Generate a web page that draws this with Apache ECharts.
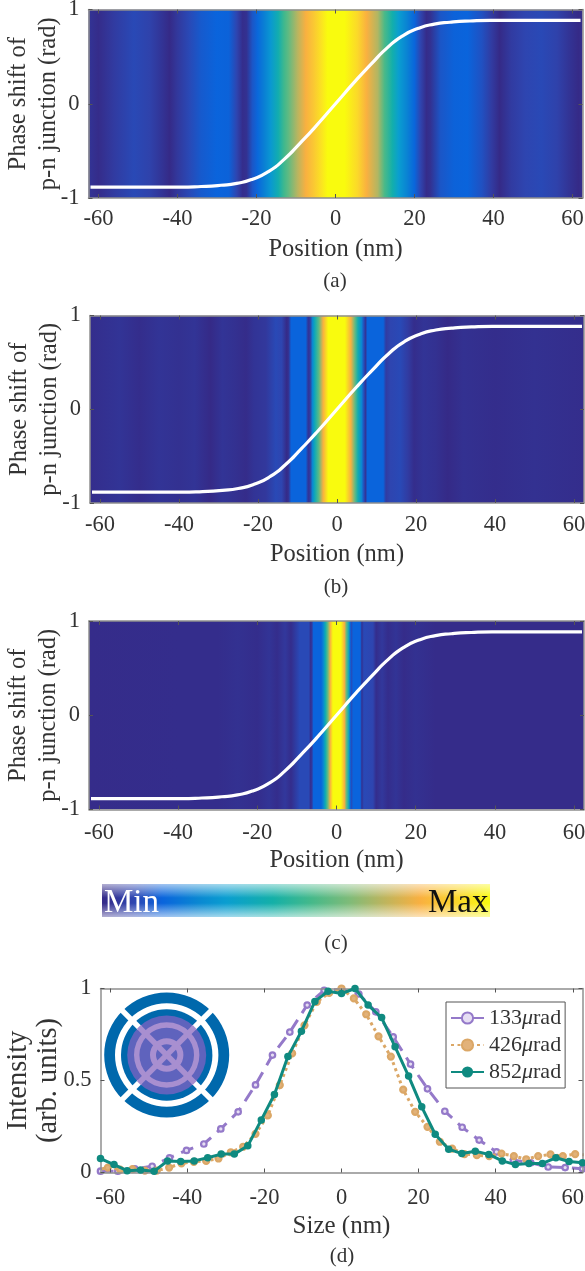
<!DOCTYPE html>
<html><head><meta charset="utf-8">
<style>html,body{margin:0;padding:0;background:#fff}#c{width:585px;height:1271px}</style>
<script src="https://cdn.jsdelivr.net/npm/echarts@6/dist/echarts.min.js"></script>
</head><body><div id="c"></div>
<script>
// ---------- tick labels ----------
const xTicks = [-60,-40,-20,0,20,40,60];
const captions = ['(a)','(b)','(c)','(d)'];
// ---------- colour scale (fraction of max -> colour) ----------
const scalePos = [0,.08,.155,.25,.32,.44,.54,.64,.72,.82,.92,1];
const scaleCol = ['#352a87','#2e45b0','#0a64dc','#0a88d2','#0a9ed0','#14b0a8','#45b98a','#80bb78','#b8b560','#f9b040','#fbd82a','#f9fb0e'];
// ---------- phase curve ----------
const phaseX = [-62,-50,-40,-34,-29,-25,-21,-17,-13,-9,-5,0,5,9,13,17,21,25,29,34,40,50,62];
const phaseY = [-.885,-.885,-.884,-.878,-.865,-.845,-.80,-.72,-.59,-.42,-.24,0,.24,.42,.59,.72,.80,.845,.865,.878,.884,.885,.885];
// ---------- intensity strips ----------
const posA = [-62.5,-60,-56,-51,-47,-44,-42,-40,-37,-34,-30,-27,-25,-23.5,-22.5,-21,-19.7,-18,-16.4,-14.5,-13,-12,-9.6,-7.5,-5.5,-3.7,-2,2.3,5.6,7.9,10.7,12.4,14.4,16,18,20,21.5,23,24,26.6,30,33.4,37,39.5,41.5,44.5,48,52,56,59,61.5,62.5];
const valA = [.03,.005,.05,.09,.07,.03,0,.04,.09,.13,.155,.15,.08,.01,.02,.12,.165,.23,.3,.42,.53,.58,.72,.82,.88,.94,1,1,.92,.82,.71,.55,.43,.32,.24,.16,.08,.005,.02,.12,.15,.155,.11,.05,0,.05,.08,.09,.07,.03,0,.01];
const posB = [-62.5,-55,-50,-45,-40,-36,-32,-29,-26,-23,-21,-18,-15.5,-14,-12.7,-12.2,-11.6,-7.9,-7.3,-6.8,-6.2,-5.6,-4.6,-3.5,-2.2,2,3.5,4.5,5.3,6.2,6.8,7.2,7.7,11.7,12.4,13.5,16,18,19.5,22,25,28,32,40,50,62.5];
const valB = [.01,.03,.01,.03,.02,.03,0,.03,.02,.005,.03,.04,.09,.08,0,.03,.155,.155,.03,.05,.25,.4,.58,.82,1,1,.82,.6,.42,.25,.1,.03,.155,.155,.05,.08,.09,.05,.01,.03,.02,0,.02,.01,.02,.01];
const posC = [-62.5,-40,-30,-25,-20,-17,-15,-13,-11.5,-9.3,-7,-6.5,-6.2,-5.8,-3.9,-3.3,-2.8,-2.2,-1.6,-.9,1.1,2,2.5,3.1,3.5,3.8,4.2,6,6.4,6.9,9.2,10,11.5,13,15,17,20,25,62.5];
const valC = [.005,.01,.01,.02,.01,.03,.01,.04,.01,.09,.09,.01,.05,.155,.155,.25,.42,.6,.82,1,1,.82,.6,.38,.15,.1,.155,.155,.02,.09,.08,.01,.04,.01,.03,.005,.02,.005,.005];
// ---------- measured profiles ----------
const x133 = [-62.5,-58,-53.6,-49.1,-44.6,-40.2,-35.7,-31.3,-26.8,-22.3,-17.9,-13.4,-8.9,-4.5,0,4.5,8.9,13.4,17.9,22.3,26.8,31.3,35.7,40.2,44.6,49.1,53.6,58,62.5];
const y133 = [.007,.007,.02,.034,.08,.12,.155,.237,.33,.476,.638,.763,.91,.99,.995,.97,.873,.737,.589,.455,.333,.246,.176,.112,.067,.053,.03,.027,.02];
const x426 = [-63.8,-60.6,-57.4,-54.2,-51,-47.9,-44.7,-41.5,-38.3,-35.1,-31.9,-28.7,-25.5,-22.3,-19.1,-16,-12.8,-9.6,-6.4,-3.2,0,3.2,6.4,9.6,12.8,16,19.1,22.3,25.5,28.7,31.9,35.1,38.3,41.5,44.7,47.9,51,54.2,57.4,60.6,63.8];
const y426 = [.01,.027,.016,.018,.01,.01,.027,.05,.058,.063,.076,.11,.14,.21,.31,.475,.647,.80,.927,.976,1,.946,.86,.74,.63,.45,.33,.248,.167,.13,.10,.094,.089,.103,.089,.072,.089,.098,.089,.10,.095];
const x852 = [-62.5,-59,-55.6,-52.1,-48.6,-45.1,-41.7,-38.2,-34.7,-31.2,-27.8,-24.3,-20.8,-17.4,-13.9,-10.4,-6.9,-3.5,0,3.5,6.9,10.4,13.9,17.4,20.8,24.3,27.8,31.2,34.7,38.2,41.7,45.1,48.6,52.1,55.6,59,62.5];
const y852 = [.076,.043,.01,.013,.007,.063,.06,.063,.08,.10,.10,.145,.286,.424,.63,.768,.93,.985,.973,1,.91,.842,.683,.524,.357,.208,.127,.103,.116,.098,.063,.043,.049,.049,.08,.06,.053];
const names = ['133μrad','426μrad','852μrad'];

const FONT = '"Liberation Serif","Times New Roman",serif';
const INK = '#333', BOX = '#8f8f8f';

function zip(a,b){ return a.map((v,i)=>[v,b[i]]); }
function colorAt(t){
  let i = 0;
  while (i < scalePos.length-2 && t > scalePos[i+1]) i++;
  const f = (t-scalePos[i])/(scalePos[i+1]-scalePos[i]);
  const a = parseInt(scaleCol[i].slice(1),16), b = parseInt(scaleCol[i+1].slice(1),16);
  const m = s => Math.round(((a>>s)&255)*(1-f)+((b>>s)&255)*f);
  return `rgb(${m(16)},${m(8)},${m(0)})`;
}
const LAYOUT = [
  {left:88.5, top:9.5,  width:494, height:188.5},
  {left:90,   top:315.5,width:494, height:187.5},
  {left:89,   top:621,  width:495, height:188.5},
  {left:100.5,top:988.5,width:482, height:184}
];
const LABEL_MARGIN=[10,11,12,14], NAME_GAP=[39,39,39,41];
const xMin=-62.5, xMax=62.5;
function axisX(i, top){
  return {type:'value', gridIndex:i, min:xMin, max:xMax, position: top?'top':'bottom', z:5,
    name: top?'':(i===3?'Size (nm)':'Position (nm)'), nameLocation:'middle', nameGap: NAME_GAP[i], nameMoveOverlap:false,
    nameTextStyle:{fontFamily:FONT,fontSize:i===3?25:24.5,color:INK},
    axisLine:{show:true,onZero:false,lineStyle:{color:BOX,width:1.5}},
    axisTick:{show:true,inside:true,length:4,customValues:xTicks,lineStyle:{color:'#555',width:1}},
    axisLabel:{show:!top,margin:LABEL_MARGIN[i],customValues:xTicks,hideOverlap:false,fontFamily:FONT,fontSize:22.5,color:INK},
    splitLine:{show:false}};
}
function axisY(i, right){
  const d = i===3;
  return {type:'value', gridIndex:i, min:d?0:-1, max:1, interval:d?.5:1, position:right?'right':'left', z:5,
    name: right?'':(d?'Intensity\n(arb. units)':'Phase shift of\np-n junction (rad)'), nameLocation:'middle', nameRotate:90,
    nameMoveOverlap:false, nameGap: d?37:25, nameTextStyle:{fontFamily:FONT,fontSize:d?28.5:24.5,lineHeight:30,color:INK},
    axisLine:{show:true,onZero:false,lineStyle:{color:BOX,width:1.5}},
    axisTick:{show:true,inside:true,length:4,lineStyle:{color:'#555',width:1}},
    axisLabel:{show:!right,margin:9,fontFamily:FONT,fontSize:22.5,color:INK,formatter:v=>String(v)},
    splitLine:{show:false}};
}
const xAxis=[], yAxis=[], series=[];
for(let i=0;i<4;i++){ xAxis.push(axisX(i,false)); yAxis.push(axisY(i,false)); }
for(let i=0;i<4;i++){ xAxis.push(axisX(i,true)); yAxis.push(axisY(i,true)); }

[[posA,valA],[posB,valB],[posC,valC]].forEach(([p,v],i)=>{
  series.push({type:'custom', xAxisIndex:i, yAxisIndex:i, silent:true, z:1, clip:true,
    data: zip(p,v), encode:{x:0,y:1},
    renderItem(params,api){
      if(params.dataIndex!==0) return null;
      const lo=api.coord([p[0],-1]), hi=api.coord([p[p.length-1],1]);
      const stops=p.map((q,k)=>({offset:(q-p[0])/(p[p.length-1]-p[0]),color:colorAt(v[k])}));
      return {type:'rect',shape:{x:lo[0],y:hi[1],width:hi[0]-lo[0],height:lo[1]-hi[1]},
        style:{fill:new echarts.graphic.LinearGradient(0,0,1,0,stops)}};
    }});
  series.push({type:'line', xAxisIndex:i, yAxisIndex:i, silent:true, z:3, data:zip(phaseX,phaseY),
    smooth:.6, showSymbol:false, symbol:'none', lineStyle:{color:'#fff',width:3.2}});
});
const PURPLE='#9479c9', TAN='#dba766', TEAL='#0f8a80';
series.push({name:names[0],type:'line',xAxisIndex:3,yAxisIndex:3,data:zip(x133,y133),z:3,clip:true,
  symbol:'circle',symbolSize:5.5,showSymbol:true,
  itemStyle:{color:'#e6def3',borderColor:PURPLE,borderWidth:2.2},
  lineStyle:{color:PURPLE,width:3,type:[13,8]}});
series.push({name:names[1],type:'line',xAxisIndex:3,yAxisIndex:3,data:zip(x426,y426),z:4,clip:true,
  symbol:'circle',symbolSize:6,showSymbol:true,
  itemStyle:{color:'#e2b27a',borderColor:TAN,borderWidth:2.2},
  lineStyle:{color:TAN,width:3,type:[3,3.5]}});
series.push({name:names[2],type:'line',xAxisIndex:3,yAxisIndex:3,data:zip(x852,y852),z:5,clip:true,
  symbol:'circle',symbolSize:7.5,showSymbol:true,
  itemStyle:{color:TEAL},
  lineStyle:{color:TEAL,width:3}});

// ---------- colour-scale key and inset ----------
const keyStops = scalePos.map((p,i)=>({offset:p,color:scaleCol[i]}));
const graphic = [
  {type:'rect',left:102,top:884,shape:{width:388,height:33},
    style:{fill:new echarts.graphic.LinearGradient(0,0,1,0,keyStops)},z:10},
  {type:'rect',left:102,top:884,shape:{width:388,height:33},
    style:{fill:new echarts.graphic.LinearGradient(0,0,0,1,[
      {offset:0,color:'rgba(255,255,255,.62)'},{offset:.42,color:'rgba(255,255,255,0)'},
      {offset:.58,color:'rgba(255,255,255,0)'},{offset:1,color:'rgba(255,255,255,.62)'}])},z:11},
  {type:'text',left:104,top:887,style:{text:'Min',fill:'#fff',font:'33px '+FONT},z:12},
  {type:'text',left:428,top:887,style:{text:'Max',fill:'#111',font:'33px '+FONT},z:12}
];
const cx=166.7, cy=1055;
const BLUE='#0068ac', DISC='#5f63bd', LIGHT='#a88fd0';
function ring(r,r0,fill,z){ return {type:'ring',shape:{cx,cy,r,r0},style:{fill},z}; }
function diag(r0,r1,stroke,w,z){
  const out=[]; const s=Math.SQRT1_2;
  [[1,1],[1,-1],[-1,1],[-1,-1]].forEach(([a,b])=>{
    out.push({type:'line',shape:{x1:cx+a*s*r0,y1:cy+b*s*r0,x2:cx+a*s*r1,y2:cy+b*s*r1},style:{stroke,lineWidth:w},z});
  });
  return out;
}
graphic.push(
  ring(62.5,51.7,BLUE,20),
  {type:'circle',shape:{cx,cy,r:45.7},style:{fill:BLUE},z:20},
  {type:'circle',shape:{cx,cy,r:39.5},style:{fill:DISC},z:21},
  ...diag(38,66,'#fff',5.5,22),
  ...diag(0,39.5,LIGHT,5.5,23),
  ring(32.7,27.3,LIGHT,23),
  ring(16.7,10.7,LIGHT,23)
);

const chart = echarts.init(document.getElementById('c'),null,{renderer:'canvas'});
chart.setOption({
  animation:false, backgroundColor:'#fff',
  grid: LAYOUT.map(l=>({...l,containLabel:false,show:false,outerBoundsMode:'none'})),
  xAxis, yAxis, series, graphic,
  title:[[335,271],[336,577],[336,933],[342,1246]].map((p,i)=>({text:captions[i],left:p[0],top:p[1],textAlign:'center',
    padding:0,textStyle:{fontFamily:FONT,fontSize:21,fontWeight:'normal',color:INK}})),
  legend:{data:names,orient:'vertical',left:446,top:1002,width:121,padding:[5,4,5,4],itemGap:5,itemWidth:33,itemHeight:14,
    backgroundColor:'#fff',borderColor:'#555',borderWidth:1,borderRadius:0,
    formatter:n=>n.replace('μ','{m|μ}'),
    textStyle:{fontFamily:FONT,fontSize:22,color:INK,lineHeight:20,
      rich:{m:{fontFamily:FONT,fontStyle:'italic',fontSize:22,color:INK}}}}
});
</script></body></html>
